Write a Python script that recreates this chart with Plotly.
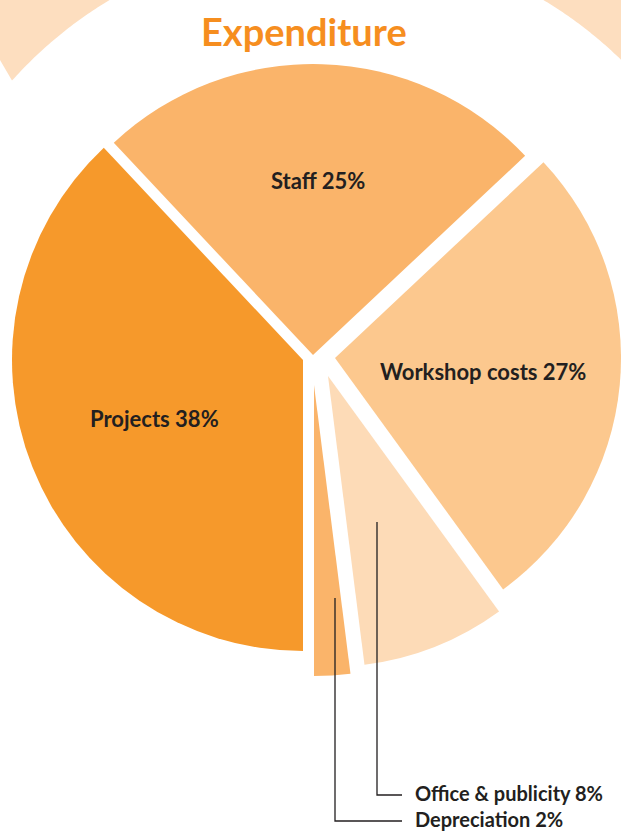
import math
import plotly.graph_objects as go

# ---------------- data ----------------
labels = ["Projects", "Staff", "Workshop costs", "Office & publicity", "Depreciation"]
values = [38, 25, 27, 8, 2]
title_text = "Expenditure"

# ---------------- style ----------------
W, H = 621, 834
colors = ["#F6992B", "#FAB46A", "#FCC88E", "#FDDBB7", "#FAB46A"]
ring_color = "#FDDEBF"
title_color = "#F68E1F"
text_color = "#231F20"
FONT = "Lato"
LABEL_SIZE = 22
OUT_SIZE = 20

center = (313, 356)          # pie centre in pixels
radius = 291
start_angle = 180            # first slice starts at 6 o'clock, clockwise
# exploded offsets per slice (pixels)
explode = [(-10, 4), (0, -1), (22, 2), (15, 20), (1, 29)]
inside_label = [0.55, 0.60, 0.52, None, None]   # fraction of radius along bisector
outside_anchor = {3: (377, 522), 4: (335, 598)}
outside_line_y = {3: 795, 4: 821}
outside_text_x = 413
outside_text_mid_y = 806


def paper(x, y):
    return x / W, 1 - y / H


def wrap(a):
    return ((a + 180) % 360) - 180


total = sum(values)
fig = go.Figure()
annotations = []
shapes = []
outside_texts = []

cum = 0
for i, (lab, v) in enumerate(zip(labels, values)):
    a0 = start_angle + cum / total * 360
    a1 = a0 + v / total * 360
    mid = math.radians((a0 + a1) / 2)
    cum += v
    ax = center[0] + explode[i][0]
    ay = center[1] + explode[i][1]
    r = min(radius, W - ax, ax, ay, H - ay)
    x0, y1 = paper(ax - r, ay - r)
    x1, y0 = paper(ax + r, ay + r)
    fig.add_trace(go.Pie(
        values=[v, total - v],
        labels=[lab, "rest"],
        marker=dict(colors=[colors[i], "rgba(0,0,0,0)"], line=dict(width=0)),
        sort=False, direction="clockwise", rotation=wrap(a0),
        textinfo="none", hoverinfo="skip", showlegend=False,
        domain=dict(x=[max(0, x0), min(1, x1)], y=[max(0, y0), min(1, y1)]),
    ))
    txt = f"{lab} {v}%"
    if inside_label[i] is not None:
        f = inside_label[i] * r
        lx = ax + f * math.sin(mid)
        ly = ay - f * math.cos(mid)
        px, py = paper(lx, ly)
        annotations.append(dict(x=px, y=py, xref="paper", yref="paper", text=txt,
                                showarrow=False, xanchor="center", yanchor="middle",
                                font=dict(family=FONT, size=LABEL_SIZE, color=text_color,
                                          weight="bold")))
    else:
        axp, ayp = outside_anchor[i]
        ty = outside_line_y[i]
        pts = [paper(axp, ayp), paper(axp, ty), paper(outside_text_x - 11, ty)]
        path = "M {} {} L {} {} L {} {}".format(*[c for p in pts for c in p])
        shapes.append(dict(type="path", path=path, xref="paper", yref="paper",
                           line=dict(color=text_color, width=1.3), layer="above"))
        outside_texts.append(txt)

px, py = paper(outside_text_x, outside_text_mid_y)
annotations.append(dict(x=px, y=py, xref="paper", yref="paper",
                        text="<br>".join(outside_texts), align="left",
                        showarrow=False, xanchor="left", yanchor="middle",
                        font=dict(family=FONT, size=OUT_SIZE, color=text_color, weight="bold")))

# decorative background ring (top corners)
rc = (326.5, 362)
R = 422


def arc_pts(x_start, x_end, n=40):
    pts = []
    for k in range(n + 1):
        x = x_start + (x_end - x_start) * k / n
        y = rc[1] - math.sqrt(max(R * R - (x - rc[0]) ** 2, 0))
        pts.append((x, y))
    return pts


left = [(0, 0)] + arc_pts(rc[0] - math.sqrt(R * R - rc[1] ** 2), 12) + [(0, 60)]
right = arc_pts(rc[0] + math.sqrt(R * R - rc[1] ** 2), W) + [(W, 0)]
for poly in (left, right):
    pp = [paper(x, y) for x, y in poly]
    path = "M " + " L ".join(f"{x:.5f} {y:.5f}" for x, y in pp) + " Z"
    shapes.append(dict(type="path", path=path, xref="paper", yref="paper",
                       fillcolor=ring_color, line=dict(width=0), layer="below"))

tx, ty = paper(304, 31)
annotations.append(dict(x=tx, y=ty, xref="paper", yref="paper", text=title_text,
                        showarrow=False, xanchor="center", yanchor="middle",
                        font=dict(family=FONT, size=38, color=title_color, weight="bold")))

fig.update_layout(width=W, height=H, margin=dict(l=0, r=0, t=0, b=0),
                  paper_bgcolor="white", plot_bgcolor="white",
                  shapes=shapes, annotations=annotations, showlegend=False)
fig.write_html("out.html", config={"displayModeBar": False},
               post_script="document.body.style.margin='0';document.body.style.overflow='hidden';")
